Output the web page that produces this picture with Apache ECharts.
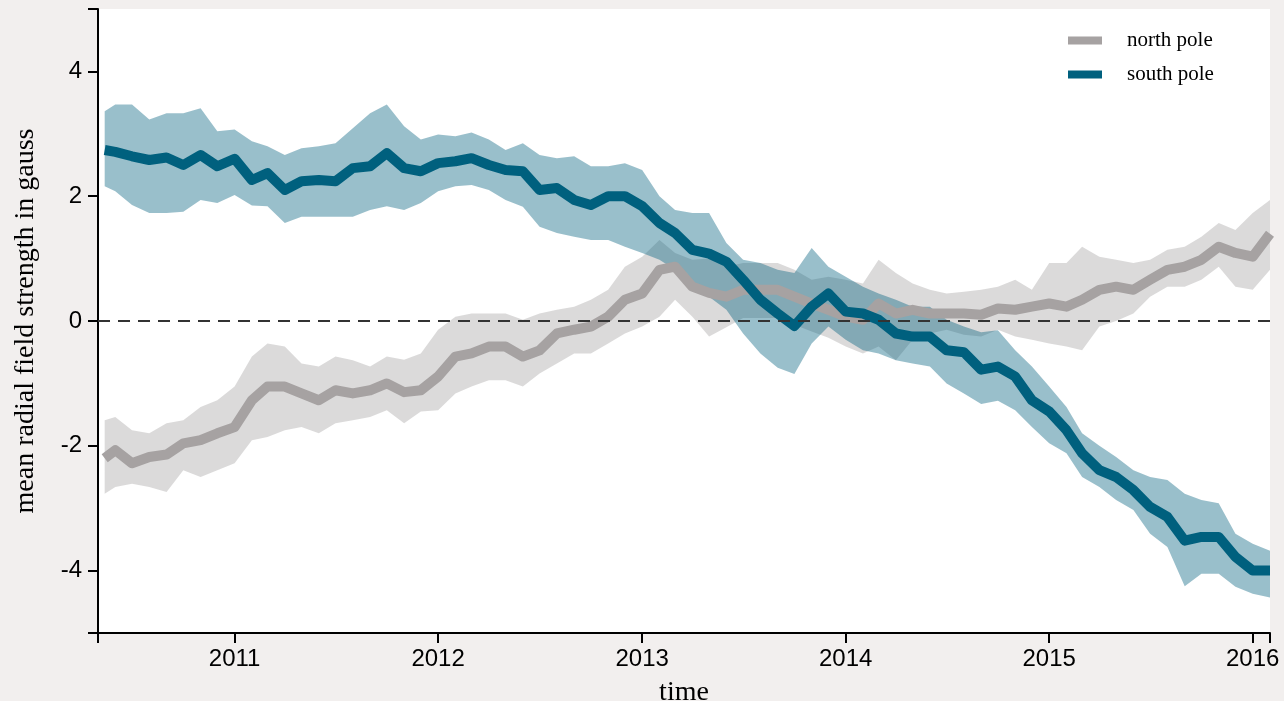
<!DOCTYPE html>
<html><head><meta charset="utf-8">
<script src="https://cdn.jsdelivr.net/npm/echarts@6/dist/echarts.min.js"></script>
<style>html,body{margin:0;padding:0;background:#f2efee;}#chart{width:1284px;height:701px;}</style>
</head><body><div id="chart"></div>
<script>
const dates = ['2010-05-13','2010-06-01','2010-07-01','2010-08-01','2010-09-01','2010-10-01','2010-11-01','2010-12-01',
'2011-01-01','2011-02-01','2011-03-01','2011-04-01','2011-05-01','2011-06-01','2011-07-01','2011-08-01','2011-09-01','2011-10-01','2011-11-01','2011-12-01',
'2012-01-01','2012-02-01','2012-03-01','2012-04-01','2012-05-01','2012-06-01','2012-07-01','2012-08-01','2012-09-01','2012-10-01','2012-11-01','2012-12-01',
'2013-01-01','2013-02-01','2013-03-01','2013-04-01','2013-05-01','2013-06-01','2013-07-01','2013-08-01','2013-09-01','2013-10-01','2013-11-01','2013-12-01',
'2014-01-01','2014-02-01','2014-03-01','2014-04-01','2014-05-01','2014-06-01','2014-07-01','2014-08-01','2014-09-01','2014-10-01','2014-11-01','2014-12-01',
'2015-01-01','2015-02-01','2015-03-01','2015-04-01','2015-05-01','2015-06-01','2015-07-01','2015-08-01','2015-09-01','2015-10-01','2015-11-01','2015-12-01',
'2016-01-01','2016-02-01'];

const southMean = [2.74,2.71,2.64,2.58,2.62,2.50,2.66,2.48,
2.60,2.26,2.37,2.10,2.24,2.26,2.24,2.45,2.48,2.69,2.45,2.40,
2.53,2.56,2.61,2.50,2.42,2.40,2.10,2.13,1.94,1.86,2.00,2.00,
1.84,1.57,1.41,1.14,1.08,0.95,0.66,0.34,0.12,-0.08,0.23,0.44,
0.15,0.12,0.02,-0.20,-0.25,-0.25,-0.47,-0.50,-0.78,-0.73,-0.89,-1.27,
-1.45,-1.75,-2.12,-2.39,-2.50,-2.71,-2.98,-3.14,-3.52,-3.46,-3.46,-3.78,
-4.00,-4.00];
const southUpper = [3.36,3.47,3.47,3.23,3.33,3.33,3.41,3.04,
3.07,2.88,2.80,2.66,2.77,2.80,2.85,3.09,3.33,3.47,3.12,2.91,
2.99,2.96,3.02,2.91,2.74,2.85,2.66,2.61,2.64,2.48,2.48,2.53,
2.42,2.00,1.78,1.73,1.73,1.25,0.98,0.93,0.82,0.77,1.17,0.87,
0.71,0.55,0.44,0.34,0.23,0.23,0.02,-0.09,-0.18,-0.15,-0.47,-0.73,
-1.05,-1.38,-1.80,-2.00,-2.18,-2.39,-2.50,-2.55,-2.77,-2.87,-2.92,-3.41,
-3.57,-3.68];
const southLower = [2.16,2.08,1.86,1.73,1.73,1.75,1.94,1.89,
2.02,1.85,1.84,1.57,1.67,1.67,1.67,1.67,1.78,1.84,1.78,1.89,
2.08,2.16,2.18,2.10,1.94,1.83,1.51,1.41,1.35,1.30,1.30,1.19,
1.09,0.98,0.82,0.55,0.39,0.18,-0.20,-0.52,-0.75,-0.85,-0.36,-0.09,
-0.30,-0.47,-0.52,-0.63,-0.68,-0.73,-1.00,-1.16,-1.33,-1.28,-1.43,-1.70,
-1.96,-2.12,-2.50,-2.66,-2.87,-3.03,-3.41,-3.62,-4.25,-4.05,-4.05,-4.26,
-4.37,-4.43];

const northMean = [-2.20,-2.07,-2.28,-2.18,-2.14,-1.96,-1.91,-1.80,
-1.70,-1.27,-1.05,-1.05,-1.16,-1.27,-1.11,-1.16,-1.11,-1.00,-1.14,-1.11,
-0.89,-0.57,-0.52,-0.41,-0.41,-0.57,-0.47,-0.20,-0.14,-0.09,0.07,0.34,
0.44,0.82,0.87,0.55,0.45,0.39,0.50,0.50,0.50,0.39,0.28,0.18,
0.07,0.02,0.28,0.12,0.18,0.12,0.12,0.12,0.10,0.20,0.18,0.23,
0.28,0.23,0.34,0.50,0.55,0.50,0.66,0.82,0.87,0.98,1.19,1.09,
1.03,1.40];
const northUpper = [-1.59,-1.54,-1.75,-1.80,-1.64,-1.59,-1.38,-1.27,
-1.05,-0.57,-0.36,-0.41,-0.68,-0.73,-0.57,-0.63,-0.73,-0.57,-0.62,-0.52,
-0.14,0.07,0.12,0.12,0.12,0.02,0.12,0.18,0.23,0.34,0.50,0.87,
1.03,1.30,1.09,0.98,1.00,0.87,0.93,0.93,0.93,0.82,0.66,0.71,
0.66,0.60,0.98,0.77,0.60,0.50,0.44,0.47,0.50,0.55,0.66,0.50,
0.93,0.93,1.19,1.03,0.98,0.93,0.98,1.14,1.19,1.35,1.57,1.46,
1.73,1.94];
const northLower = [-2.77,-2.66,-2.61,-2.66,-2.74,-2.39,-2.50,-2.39,
-2.28,-1.91,-1.86,-1.75,-1.70,-1.80,-1.64,-1.59,-1.54,-1.43,-1.64,-1.45,
-1.43,-1.16,-1.05,-0.95,-0.95,-1.05,-0.84,-0.68,-0.52,-0.52,-0.36,-0.20,
-0.09,0.07,0.34,0.07,-0.25,-0.10,0.05,0.05,0.05,-0.06,-0.17,-0.27,
-0.41,-0.52,-0.41,-0.63,-0.30,-0.20,-0.14,-0.22,-0.25,-0.14,-0.25,-0.30,
-0.36,-0.41,-0.47,-0.09,0.00,0.12,0.39,0.55,0.55,0.66,0.87,0.55,
0.50,0.82];

const yTickValues = [-5,-4,-2,0,2,4,5];
const yLabelValues = [-4,-2,0,2,4];
const yearLabels = [2011,2012,2013,2014,2015,2016];
const xStart = '2010-05-01', xEnd = '2016-02-01';

const NORTH = '#a6a2a2', SOUTH = '#00607e';
const NORTH_BAND = 'rgba(166,162,162,0.4)', SOUTH_BAND = 'rgba(0,96,126,0.4)';
const ts = s => { const p = s.split('-'); return new Date(+p[0], +p[1]-1, +p[2]).getTime(); };
const yearTs = yearLabels.map(y => new Date(y, 0, 1).getTime());
const pairs = vals => dates.map((d, i) => [ts(d), vals[i]]);

const chart = echarts.init(document.getElementById('chart'), null, {renderer: 'canvas'});

const band = (name, hi, lo, fill) => ({
  name, type:'custom', coordinateSystem:'cartesian2d', silent:true, clip:true,
  data:[[ts(dates[0]), lo[0]]], encode:{x:0, y:1},
  renderItem:(params, api) => {
    const top = dates.map((d, i) => api.coord([ts(d), hi[i]]));
    const bottom = dates.map((d, i) => api.coord([ts(d), lo[i]])).reverse();
    return {type:'polygon', shape:{points: top.concat(bottom)}, style:{fill}};
  }
});
const meanLine = (name, vals, color) => ({name, type:'line', data: pairs(vals), symbol:'none',
  lineStyle:{color, width:10, join:'round'}, itemStyle:{color}});

const southMeanSeries = meanLine('south pole', southMean, SOUTH);
southMeanSeries.markLine = {silent:true, symbol:'none', z:10, label:{show:false},
  lineStyle:{color:'#333', type:[12,8], width:2}, data:[{yAxis:0}]};

chart.setOption({
  animation:false,
  backgroundColor:'#f2efee',
  grid:{left:98, right:14, top:9, bottom:68, show:true, backgroundColor:'#ffffff', borderWidth:0,
    containLabel:false, outerBoundsMode:'none'},
  legend:{orient:'vertical', left:1068, top:30, padding:0, itemWidth:34, itemHeight:8, itemGap:13, icon:'rect',
    data:['north pole','south pole'],
    textStyle:{fontFamily:'Liberation Serif', fontSize:21, color:'#000', padding:[0,0,0,20]}},
  xAxis:{type:'value', min: ts(xStart), max: ts(xEnd), scale:true,
    axisLine:{show:true, onZero:false, lineStyle:{color:'#000', width:2}},
    axisTick:{show:true, length:10, lineStyle:{color:'#000', width:2}, customValues:[ts(xStart)].concat(yearTs, [ts(xEnd)])},
    axisLabel:{customValues: yearTs, formatter: v => String(new Date(v).getFullYear()),
      color:'#000', fontFamily:'Liberation Sans', fontSize:24, margin:14},
    splitLine:{show:false},
    name:'time', nameLocation:'middle', nameGap:46,
    nameTextStyle:{fontFamily:'Liberation Serif', fontSize:28, color:'#000'}},
  yAxis:{type:'value', min:-5, max:5, interval:1,
    axisLine:{show:true, lineStyle:{color:'#000', width:2}},
    axisTick:{show:true, length:10, lineStyle:{color:'#000', width:2}, customValues: yTickValues},
    axisLabel:{customValues: yLabelValues, color:'#000', fontFamily:'Liberation Sans', fontSize:24, margin:16},
    splitLine:{show:false},
    name:'mean radial field strength in gauss', nameLocation:'middle', nameGap:58,
    nameTextStyle:{fontFamily:'Liberation Serif', fontSize:28, color:'#000'}},
  series:[
    band('north band', northUpper, northLower, NORTH_BAND),
    meanLine('north pole', northMean, NORTH),
    band('south band', southUpper, southLower, SOUTH_BAND),
    southMeanSeries
  ]
});
</script></body></html>
